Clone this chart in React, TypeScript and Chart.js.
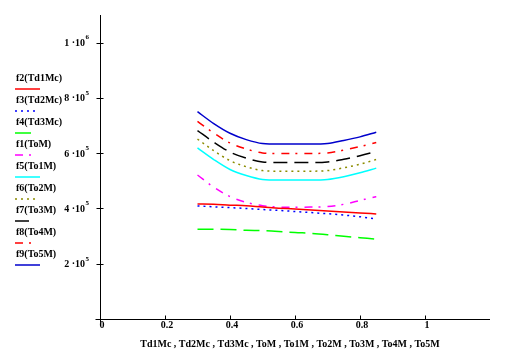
import React, { useEffect, useRef } from "react";
import { Chart, registerables } from "chart.js";
Chart.register(...registerables);

const xValues = [0.3, 0.35, 0.4, 0.45, 0.5, 0.55, 0.6, 0.65, 0.7, 0.75, 0.8, 0.85];
const f2 = [416000, 415000, 412000, 410000, 405000, 401000, 398000, 394000, 391000, 387000, 384000, 380000];
const f3 = [409000, 406000, 403000, 400000, 396000, 393000, 389000, 385000, 381000, 376000, 370000, 362000];
const f4 = [325000, 325000, 324000, 321000, 320000, 317000, 313000, 310000, 305000, 299000, 294000, 289000];
const f1 = [521000, 477000, 443000, 422000, 410000, 405000, 404000, 405000, 407000, 415000, 429000, 443000];
const f5 = [619000, 577000, 541000, 519000, 505000, 503000, 503000, 503000, 505000, 515000, 529000, 546000];
const f6 = [651000, 609000, 573000, 551000, 537000, 535000, 535000, 535000, 537000, 547000, 560000, 577000];
const f7 = [682000, 640000, 604000, 582000, 568000, 566000, 566000, 566000, 568000, 578000, 591000, 606000];
const f8 = [715000, 673000, 637000, 615000, 601000, 599000, 599000, 599000, 601000, 611000, 624000, 639000];
const f9 = [750000, 707000, 672000, 649000, 635000, 633000, 633000, 633000, 635000, 646000, 659000, 676000];

const seriesNames = ["f2(Td1Mc)", "f3(Td2Mc)", "f4(Td3Mc)", "f1(ToM)", "f5(To1M)", "f6(To2M)", "f7(To3M)", "f8(To4M)", "f9(To5M)"];
const seriesValues = [f2, f3, f4, f1, f5, f6, f7, f8, f9];
const seriesColors = ["#ff0000", "#0000ff", "#00ff00", "#ff00ff", "#00ffff", "#8c8c00", "#000000", "#ff0000", "#0000cc"];
const seriesDash: number[][] = [[], [2, 4], [16, 7], [8, 6, 2, 7], [], [2, 4], [14, 7], [8, 6, 2, 7], []];
const legendSampleLen = [25, 20, 17, 17, 25, 20, 17, 17, 25];

const xTicks = [0, 0.2, 0.4, 0.6, 0.8, 1];
const xTickLabels = ["0", "0.2", "0.4", "0.6", "0.8", "1"];
const yTicks = [0, 200000, 400000, 600000, 800000, 1000000];
const yTickMantissa = ["", "2", "4", "6", "8", "1"];
const yTickExp = ["", "5", "5", "5", "5", "6"];
const xTitle = "Td1Mc , Td2Mc , Td3Mc , ToM , To1M , To2M , To3M , To4M , To5M";

const FONT = '"Liberation Serif", "Times New Roman", serif';

const axesPlugin = {
  id: "mathcadAxes",
  afterDraw(chart: any) {
    const ctx = chart.ctx as CanvasRenderingContext2D;
    const xs = chart.scales.x;
    const ys = chart.scales.y;
    const area = chart.chartArea;
    const x0 = Math.round(xs.getPixelForValue(0)) + 0.5;
    const y0 = Math.round(ys.getPixelForValue(0)) + 0.5;
    ctx.save();
    ctx.strokeStyle = "#000";
    ctx.lineWidth = 1;
    ctx.setLineDash([]);
    ctx.beginPath();
    ctx.moveTo(x0 - 5, y0);
    ctx.lineTo(area.right, y0);
    ctx.moveTo(x0, area.top);
    ctx.lineTo(x0, y0 + 3);
    yTicks.forEach((v) => {
      const p = Math.round(ys.getPixelForValue(v)) + 0.5;
      ctx.moveTo(x0 - 4, p);
      ctx.lineTo(x0 + 3, p);
    });
    xTicks.forEach((v) => {
      const p = Math.round(xs.getPixelForValue(v)) + 0.5;
      ctx.moveTo(p, y0 - 4);
      ctx.lineTo(p, y0 + (v === 0 ? 3 : 0));
    });
    ctx.stroke();

    ctx.fillStyle = "#000";
    yTicks.forEach((v, i) => {
      if (!yTickMantissa[i]) return;
      const p = ys.getPixelForValue(v);
      ctx.font = "bold 10px " + FONT;
      ctx.textAlign = "right";
      ctx.textBaseline = "middle";
      ctx.fillText(yTickMantissa[i] + " \u00b710", 85, p + 1);
      ctx.font = "bold 7px " + FONT;
      ctx.textAlign = "left";
      ctx.fillText(yTickExp[i], 85.5, p - 5);
    });
    ctx.font = "bold 10px " + FONT;
    ctx.textAlign = "center";
    ctx.textBaseline = "middle";
    xTicks.forEach((v, i) => {
      const p = xs.getPixelForValue(v);
      ctx.fillText(xTickLabels[i], p + 2, 325);
    });
    ctx.fillText(xTitle, 290, 344);

    seriesNames.forEach((name, i) => {
      const ty = 78 + 22 * i;
      ctx.font = "bold 10px " + FONT;
      ctx.textAlign = "left";
      ctx.textBaseline = "middle";
      ctx.fillStyle = "#000";
      ctx.fillText(name, 16, ty);
      ctx.strokeStyle = seriesColors[i];
      ctx.lineWidth = 1.5;
      ctx.setLineDash(seriesDash[i]);
      ctx.beginPath();
      ctx.moveTo(15, ty + 11);
      ctx.lineTo(15 + legendSampleLen[i], ty + 11);
      ctx.stroke();
    });
    ctx.restore();
  },
};

export default function App() {
  const ref = useRef<HTMLCanvasElement | null>(null);
  useEffect(() => {
    if (!ref.current) return;
    const chart = new Chart(ref.current, {
      type: "line",
      data: {
        datasets: seriesValues.map((vals, i) => ({
          label: seriesNames[i],
          data: xValues.map((x, j) => ({ x, y: vals[j] })),
          borderColor: seriesColors[i],
          backgroundColor: seriesColors[i],
          borderDash: seriesDash[i],
          borderWidth: 1.5,
          pointRadius: 0,
          cubicInterpolationMode: "monotone" as const,
          fill: false,
        })),
      },
      options: {
        responsive: false,
        animation: false,
        layout: { padding: { left: 100, right: 26, top: 15, bottom: 32 } },
        plugins: { legend: { display: false }, tooltip: { enabled: false } },
        scales: {
          x: { type: "linear", min: 0, max: 1.2, display: false },
          y: { type: "linear", min: 0, max: 1100000, display: false },
        },
      },
      plugins: [axesPlugin],
    });
    return () => chart.destroy();
  }, []);
  return (
    <div style={{ position: "fixed", left: 0, top: 0, width: 516, height: 351, background: "#fff" }}>
      <canvas ref={ref} width={516} height={351} style={{ display: "block" }} />
    </div>
  );
}
